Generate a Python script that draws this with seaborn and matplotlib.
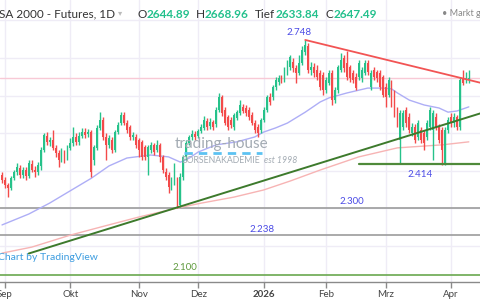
import numpy as np
import pandas as pd
import matplotlib
matplotlib.use("Agg")
import matplotlib.pyplot as plt
import seaborn as sns

# ---------------- data ----------------
opens = [2389, 2376, 2362, 2354, 2381, 2397, 2407, 2389, 2402, 2386,
         2418, 2402, 2397, 2413, 2455, 2493, 2477, 2482, 2461, 2447,
         2434, 2450, 2434, 2461, 2474, 2490, 2477, 2493, 2503, 2498,
         2503, 2429, 2461, 2514, 2535, 2490, 2469, 2482, 2455, 2503,
         2527, 2548, 2527, 2516, 2490, 2490, 2482, 2477, 2463, 2437,
         2455, 2469, 2455, 2469, 2437, 2397, 2389, 2357, 2370, 2376,
         2309, 2383, 2437, 2474, 2490, 2498, 2493, 2506, 2514, 2533,
         2519, 2530, 2524, 2562, 2596, 2562, 2543, 2535, 2516, 2540,
         2554, 2570, 2567, 2562, 2548, 2527, 2516, 2508, 2535, 2562,
         2596, 2596, 2623, 2636, 2647, 2641, 2663, 2676, 2689, 2673,
         2660, 2687, 2716, 2732, 2668, 2676, 2668, 2660, 2655, 2615,
         2634, 2660, 2588, 2615, 2668, 2700, 2687, 2676, 2660, 2649,
         2649, 2647, 2660, 2687, 2623, 2668, 2663, 2660, 2649, 2623,
         2602, 2634, 2607, 2562, 2482, 2516, 2562, 2543, 2500, 2516,
         2490, 2508, 2500, 2490, 2516, 2508, 2543, 2516, 2508, 2421,
         2508, 2543, 2527, 2543, 2516, 2647, 2641, 2644.89]
highs = [2397, 2383, 2368, 2386, 2402, 2421, 2415, 2410, 2410, 2429,
         2429, 2413, 2423, 2463, 2500, 2503, 2490, 2508, 2469, 2455,
         2461, 2455, 2469, 2487, 2516, 2500, 2503, 2514, 2514, 2511,
         2508, 2469, 2522, 2556, 2543, 2500, 2495, 2490, 2508, 2530,
         2556, 2556, 2535, 2522, 2503, 2498, 2487, 2482, 2469, 2469,
         2477, 2474, 2482, 2474, 2442, 2407, 2397, 2383, 2421, 2383,
         2394, 2442, 2482, 2495, 2508, 2506, 2511, 2524, 2546, 2540,
         2540, 2535, 2570, 2607, 2602, 2570, 2548, 2543, 2554, 2562,
         2588, 2578, 2575, 2570, 2556, 2535, 2524, 2540, 2570, 2602,
         2607, 2628, 2649, 2655, 2655, 2676, 2695, 2708, 2700, 2681,
         2708, 2732, 2748, 2740, 2689, 2687, 2681, 2668, 2663, 2649,
         2668, 2668, 2623, 2681, 2713, 2708, 2719, 2681, 2668, 2660,
         2695, 2676, 2695, 2695, 2668, 2676, 2668, 2668, 2655, 2634,
         2649, 2641, 2615, 2570, 2562, 2562, 2570, 2554, 2527, 2524,
         2535, 2516, 2508, 2535, 2570, 2562, 2554, 2524, 2516, 2516,
         2543, 2554, 2554, 2548, 2649, 2668, 2663, 2668.96]
lows = [2368, 2354, 2330, 2349, 2376, 2389, 2381, 2381, 2376, 2381,
        2397, 2383, 2389, 2402, 2450, 2469, 2466, 2455, 2437, 2410,
        2423, 2421, 2429, 2455, 2466, 2469, 2469, 2487, 2487, 2490,
        2383, 2415, 2455, 2508, 2482, 2429, 2461, 2447, 2450, 2498,
        2522, 2522, 2500, 2482, 2482, 2461, 2437, 2429, 2429, 2389,
        2447, 2442, 2450, 2423, 2394, 2376, 2341, 2349, 2362, 2301,
        2304, 2376, 2429, 2469, 2482, 2482, 2487, 2500, 2508, 2508,
        2511, 2508, 2516, 2556, 2546, 2522, 2508, 2514, 2508, 2535,
        2548, 2554, 2546, 2535, 2522, 2500, 2490, 2500, 2530, 2556,
        2575, 2588, 2615, 2628, 2634, 2636, 2655, 2668, 2663, 2634,
        2655, 2681, 2708, 2660, 2655, 2649, 2641, 2615, 2602, 2607,
        2628, 2575, 2580, 2607, 2663, 2663, 2641, 2636, 2634, 2615,
        2641, 2636, 2655, 2655, 2615, 2641, 2636, 2615, 2596, 2570,
        2596, 2570, 2543, 2516, 2421, 2508, 2516, 2500, 2493, 2474,
        2482, 2474, 2455, 2482, 2508, 2429, 2508, 2474, 2415, 2415,
        2500, 2516, 2516, 2508, 2508, 2628, 2634, 2633.84]
closes = [2376, 2362, 2354, 2381, 2397, 2410, 2389, 2402, 2386, 2421,
          2402, 2397, 2415, 2455, 2495, 2477, 2482, 2461, 2447, 2429,
          2450, 2434, 2461, 2474, 2490, 2477, 2493, 2503, 2495, 2503,
          2397, 2463, 2514, 2535, 2490, 2469, 2487, 2455, 2503, 2522,
          2548, 2527, 2508, 2490, 2495, 2469, 2455, 2437, 2437, 2463,
          2469, 2450, 2469, 2437, 2402, 2383, 2357, 2376, 2397, 2309,
          2383, 2437, 2474, 2490, 2498, 2490, 2506, 2516, 2535, 2516,
          2530, 2516, 2562, 2596, 2554, 2527, 2516, 2522, 2548, 2556,
          2575, 2559, 2554, 2543, 2527, 2508, 2500, 2535, 2562, 2596,
          2583, 2623, 2641, 2647, 2641, 2668, 2676, 2703, 2673, 2660,
          2687, 2721, 2735, 2668, 2676, 2660, 2649, 2623, 2615, 2641,
          2660, 2588, 2615, 2676, 2695, 2673, 2649, 2647, 2641, 2620,
          2687, 2668, 2687, 2663, 2660, 2649, 2647, 2623, 2602, 2596,
          2641, 2580, 2562, 2522, 2554, 2554, 2527, 2508, 2516, 2482,
          2527, 2482, 2474, 2527, 2562, 2554, 2516, 2482, 2455, 2508,
          2535, 2527, 2543, 2516, 2641, 2634, 2647, 2647.49]

first_day = "2025-08-29"
last_day = "2026-04-09"
closed_days = ["2025-12-25", "2026-01-01"]
month_labels = ["Sep", "Okt", "Nov", "Dez", "2026", "Feb", "Mrz", "Apr"]

# moving averages (bar index, value)
ma_fast_idx = [0, 9, 16, 23, 30, 36, 42, 50, 56, 60, 63, 66, 72, 79, 85, 88,
               92, 96, 102, 107, 110, 116, 123, 128, 131, 133, 137, 142, 147,
               150, 153, 157]
ma_fast_val = [2256, 2285, 2314, 2347, 2380, 2413, 2434, 2442, 2437, 2423,
               2434, 2450, 2469, 2477, 2490, 2503, 2514, 2527, 2556, 2583,
               2594, 2607, 2620, 2620, 2618, 2607, 2588, 2575, 2567, 2556,
               2559, 2570]
ma_slow_idx = [0, 10, 23, 33, 46, 59, 67, 78, 88, 97, 107, 120, 133, 148, 157]
ma_slow_val = [2181, 2197, 2229, 2250, 2277, 2301, 2314, 2330, 2349, 2373,
               2402, 2437, 2461, 2469, 2477]

# drawn lines
resist_idx = [102, 161]
resist_val = [2748, 2634]
trend_idx = [9, 161]
trend_val = [2180, 2553]
support_idx = [120, 161]
support_val = [2417, 2417]
level_vals = [2300, 2229, 2124]
level_labels = ["2.300", "2.238", "2.100"]
peak_label = "2.748"
support_label = "2.414"
last_price = 2647.49

# ---------------- styling ----------------
sns.set_theme(style="white")
plt.rcParams["font.family"] = ["Lato", "DejaVu Sans"]

UP = "#26c28a"
DOWN = "#f34a4a"

fig = plt.figure(figsize=(4.8, 3.0), dpi=100)
ax = fig.add_axes([0, 18 / 300, 1, 282 / 300])

dates = pd.bdate_range(first_day, last_day)
dates = dates[~dates.isin(pd.to_datetime(closed_days))]
df = pd.DataFrame({"date": dates, "open": opens, "high": highs,
                   "low": lows, "close": closes})
df["x"] = np.arange(len(df))
months = df["date"].dt.to_period("M")
tick_idx = [i for i in range(1, len(df)) if months.iloc[i] != months.iloc[i - 1]]

ax.set_xlim(-0.68, 160.77)
ax.set_ylim(2104.2, 2854.3)

# grid
ax.set_yticks(np.arange(2200, 2900, 100))
ax.set_xticks(tick_idx)
ax.set_xticklabels(month_labels)
ax.grid(True, color="#efecf6", lw=1, zorder=0)
ax.set_axisbelow(True)

# current price line
ax.axhline(last_price, color="#f8c9d6", lw=1, zorder=1)

# level lines
ax.axhline(level_vals[0], color="#9c9c9c", lw=1.2, zorder=2)
ax.axhline(level_vals[1], color="#9c9c9c", lw=1.2, zorder=2)
ax.axhline(level_vals[2], color="#6aa84f", lw=1.2, zorder=2)

# moving averages
sns.lineplot(x=ma_slow_idx, y=ma_slow_val, ax=ax, color="#f7b4b4", lw=1,
             zorder=3, legend=False)
sns.lineplot(x=ma_fast_idx, y=ma_fast_val, ax=ax, color="#aeaef6", lw=1,
             zorder=3, legend=False)

# candles
up = df["close"] >= df["open"]
cols = np.where(up, UP, DOWN)
ax.vlines(df["x"], df["low"], df["high"], colors=cols, lw=1, zorder=4)
body_lo = np.minimum(df["open"], df["close"])
body_h = np.maximum((df["close"] - df["open"]).abs(), 1.5)
ax.bar(df["x"], body_h, bottom=body_lo, width=0.62, color=cols, lw=0, zorder=5)

# trend lines
sns.lineplot(x=resist_idx, y=resist_val, ax=ax, color="#f25454", lw=1.3,
             zorder=6, legend=False)
sns.lineplot(x=trend_idx, y=trend_val, ax=ax, color="#3d7a2c", lw=1.4,
             zorder=6, legend=False)
sns.lineplot(x=support_idx, y=support_val, ax=ax, color="#4f8a3a", lw=1.6,
             zorder=6, legend=False)

# labels
lab_kw = dict(ha="center", va="center", fontsize=7, color="#4b4be6", zorder=7)
ax.text(100, 2767, peak_label, **lab_kw)
ax.text(117.7, 2317, level_labels[0], **lab_kw)
ax.text(87.4, 2245, level_labels[1], **lab_kw)
ax.text(140.6, 2389, support_label, **lab_kw)
ax.text(61.5, 2144, level_labels[2], ha="center", va="center", fontsize=7,
        color="#5f9a3e", zorder=7)

# spines and ticks
for s in ["top", "left", "right"]:
    ax.spines[s].set_visible(False)
ax.spines["bottom"].set_color("#8a8a8a")
ax.spines["bottom"].set_linewidth(1)
ax.tick_params(axis="x", length=4, width=1, color="#8a8a8a", labelsize=7,
               labelcolor="#444444", pad=2, bottom=True)
ax.tick_params(axis="y", left=False, labelleft=False)
ax.get_xticklabels()[4].set_fontweight("bold")
ax.set_xlabel("")
ax.set_ylabel("")


def fx(px):
    return px / 480


def fy(py):
    return 1 - py / 300


# header
fig.text(fx(-1), fy(14), "SA 2000 - Futures, 1D", fontsize=8.5, color="#333333",
         va="center", ha="left")
fig.text(fx(118), fy(13), "▾", fontsize=6, color="#bbbbbb", va="center",
         ha="left", family=["DejaVu Sans"])
hdr = [(137, "O", "#333333", "normal"), (147, "2644.89", "#22c08c", "bold"),
       (196, "H", "#333333", "normal"), (205, "2668.96", "#22c08c", "bold"),
       (255, "Tief", "#333333", "normal"), (276, "2633.84", "#22c08c", "bold"),
       (325, "C", "#333333", "normal"), (334, "2647.49", "#22c08c", "bold")]
for xx, t, c, w in hdr:
    fig.text(fx(xx), fy(14), t, fontsize=8.5, color=c, fontweight=w,
             va="center", ha="left")
fig.text(fx(442), fy(13), "• Markt g", fontsize=6.5, color="#888888",
         va="center", ha="left")

# watermark
fig.text(fx(222), fy(144), "trading-house", fontsize=11, color="#a3abb3",
         va="center", ha="center", zorder=8)
fig.lines.append(plt.Line2D([fx(184), fx(262)], [fy(152.5), fy(152.5)],
                            transform=fig.transFigure, color="#5cc2f2",
                            lw=2, ls=(0, (3, 2.2))))
fig.text(fx(221), fy(160.5), "BÖRSENAKADEMIE", fontsize=6.3, color="#a3abb3",
         va="center", ha="center")
fig.text(fx(281), fy(160.5), "est 1998", fontsize=6.3, color="#a3abb3",
         va="center", ha="center", style="italic")

fig.text(fx(-2), fy(258), "Chart by TradingView", fontsize=7.5,
         color="#3d9de0", va="center", ha="left")

fig.savefig("out.png", dpi=100)
